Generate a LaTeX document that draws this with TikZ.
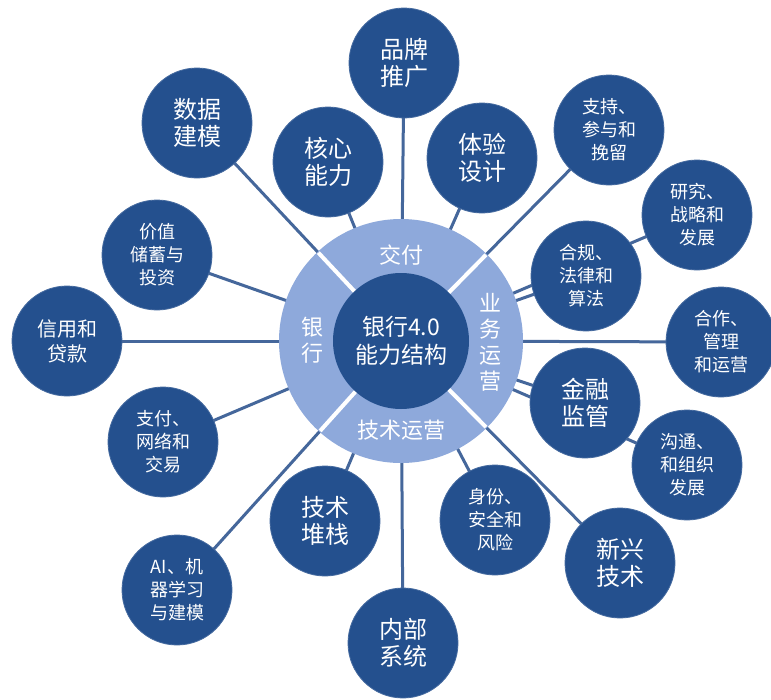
\documentclass[tikz,border=0pt]{standalone}
\usepackage{fontspec}
\setmainfont{Noto Sans CJK SC}
\pgfdeclarelayer{paper}
\pgfdeclarelayer{lines}
\pgfdeclarelayer{ringlayer}
\pgfsetlayers{paper,lines,ringlayer,main}
\definecolor{darkblue}{HTML}{24508E}
\definecolor{ringblue}{HTML}{8EA9DB}
\definecolor{linkblue}{HTML}{45679B}
\tikzset{
  bubble/.style={circle, fill=darkblue, draw=darkblue!85!white, line width=0.8pt, minimum size=110pt, inner sep=0pt, text=white, align=center},
  big/.style={bubble, font=\fontsize{24}{27}\selectfont},
  mid/.style={bubble, font=\fontsize{20}{25}\selectfont},
  small/.style={bubble, font=\fontsize{18}{23}\selectfont},
  conn/.style={draw=linkblue, line width=3pt},
  divider/.style={draw=white, line width=4pt},
  ringtext/.style={text=white, font=\fontsize{22}{26}\selectfont, align=center, inner sep=0pt}
}
\begin{document}
\begin{tikzpicture}[x=1pt,y=-1pt]
\useasboundingbox (0,0) rectangle (771,699);
\begin{pgfonlayer}{paper}
\fill[white] (0,0) rectangle (771,699);
\end{pgfonlayer}
% hub
\node[circle, fill=darkblue, minimum size=136pt, inner sep=0pt, text=white, align=center, font=\fontsize{23}{28}\selectfont] (hub) at (401,341) {银行4.0\\能力结构};
% outer bubbles
\node[big] (ppt) at (404,63) {品牌\\推广};
\node[big] (sjjm) at (197,123) {数据\\建模};
\node[big] (hxnl) at (328,162) {核心\\能力};
\node[big] (tysj) at (482,158) {体验\\设计};
\node[small] (zccy) at (609,130) {支持、\\参与和\\挽留};
\node[small] (yjzl) at (697,215) {研究、\\战略和\\发展};
\node[small] (jzcx) at (157,255) {价值\\储蓄与\\投资};
\node[small] (hgfl) at (586,276) {合规、\\法律和\\算法};
\node[mid] (xydk) at (67,341) {信用和\\贷款};
\node[small] (hzgl) at (721,342) {合作、\\管理\\和运营};
\node[big] (jrjg) at (585,403) {金融\\监管};
\node[small] (gtzz) at (687,465) {沟通、\\和组织\\发展};
\node[small] (zfwl) at (163,442) {支付、\\网络和\\交易};
\node[big] (jszz) at (325,521) {技术\\堆栈};
\node[small] (sfaq) at (495,520) {身份、\\安全和\\风险};
\node[big] (xxjs) at (620,563) {新兴\\技术};
\node[small] (aijq) at (177,590) {AI、机\\器学习\\与建模};
\node[big] (nbxt) at (403,643) {内部\\系统};
% ring
\begin{pgfonlayer}{ringlayer}
\node[circle, fill=ringblue, minimum size=244pt, inner sep=0pt] (ring) at (401,341) {};
\begin{scope}
\clip (ring.center) circle (121pt);
\foreach \n in {sjjm,zccy,aijq,xxjs}
  \draw[divider] (hub.center) -- (\n.center);
\end{scope}
\end{pgfonlayer}
\node[ringtext] (tjf) at (401,255) {交付};
\node[ringtext] (tjs) at (401,430) {技术运营};
\node[ringtext] (tyh) at (312,340) {银\\行};
\node[ringtext] (tyw) at (490,342) {业\\务\\运\\营};
% connectors
\begin{pgfonlayer}{lines}
\foreach \n in {ppt,sjjm,hxnl,tysj,zccy,yjzl,jzcx,hgfl,xydk,hzgl,jrjg,gtzz,zfwl,jszz,sfaq,xxjs,aijq,nbxt}
  \draw[conn] (hub.center) -- (\n.center);
\end{pgfonlayer}
\end{tikzpicture}
\end{document}
